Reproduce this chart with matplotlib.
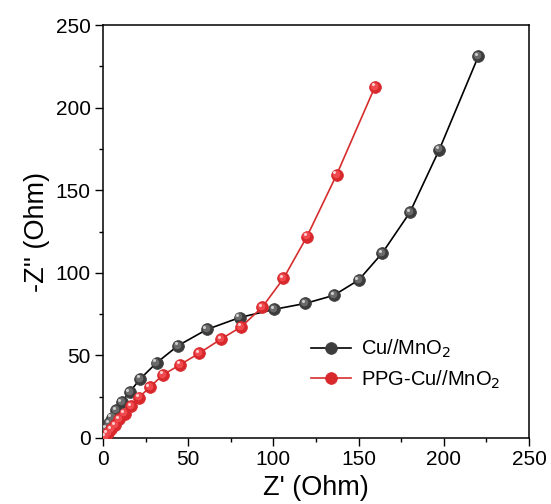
import numpy as np
import matplotlib
matplotlib.use('Agg')
import matplotlib.pyplot as plt
from matplotlib.transforms import ScaledTranslation

# Nyquist data
cu_x = [0.6, 1.2, 2.2, 3.6, 5.1, 7.7, 11.0, 15.6, 21.9, 31.4, 44.0, 60.9, 80.1,
        100.4, 118.8, 135.5, 150.1, 163.9, 180.1, 197.4, 220.3]
cu_y = [0.4, 2.8, 5.8, 8.8, 12.4, 16.8, 21.8, 27.8, 35.9, 45.5, 55.9, 65.7, 72.9,
        77.9, 81.5, 86.4, 95.7, 112.0, 136.6, 174.7, 231.2]
ppg_x = [0.3, 1.2, 2.8, 4.7, 7.1, 9.6, 12.6, 16.4, 21.1, 27.4, 35.3, 45.1, 56.4,
         69.2, 81.1, 93.5, 105.9, 119.7, 137.1, 159.6]
ppg_y = [0.2, 0.8, 2.8, 5.2, 7.8, 11.2, 14.8, 19.2, 24.5, 30.8, 38.3, 44.3, 51.3,
         59.9, 67.3, 79.3, 96.6, 122.0, 159.4, 212.7]

plt.rcParams['font.family'] = ['Liberation Sans', 'DejaVu Sans']

fig = plt.figure(figsize=(5.51, 5.04), dpi=100)
ax = fig.add_axes([0.187, 0.131, 0.773, 0.819])


def balls(x, y, line_color, dark, mid, light, label, z):
    # line + dark sphere, then shaded highlight layers shifted up-left
    ln, = ax.plot(x, y, '-', color=line_color, lw=1.2, marker='o', ms=8.5,
                  mfc=dark, mec=dark, mew=0.5, label=label, zorder=z)
    off1 = ax.transData + ScaledTranslation(-0.8/72, 0.8/72, fig.dpi_scale_trans)
    ax.plot(x, y, 'o', ms=5.5, color=mid, mew=0, transform=off1, zorder=z + 0.1)
    off2 = ax.transData + ScaledTranslation(-1.7/72, 1.7/72, fig.dpi_scale_trans)
    ax.plot(x, y, 'o', ms=2.2, color=light, mew=0, transform=off2, zorder=z + 0.2)
    return ln


balls(cu_x, cu_y, 'black', '#3c3c3c', '#6a6a6a', '#d0d0d0', 'Cu//MnO$_2$', 3)
balls(ppg_x, ppg_y, '#d62d2d', '#d8282c', '#f04a4e', '#ffd0d0', 'PPG-Cu//MnO$_2$', 4)

ax.set_xlim(0, 250)
ax.set_ylim(0, 250)
ax.set_xticks(np.arange(0, 251, 50))
ax.set_yticks(np.arange(0, 251, 50))
ax.set_xticks(np.arange(25, 250, 50), minor=True)
ax.set_yticks(np.arange(25, 250, 50), minor=True)
ax.tick_params(which='major', direction='out', length=5.5, width=1, labelsize=15)
ax.tick_params(which='minor', direction='out', length=3, width=1)
for s in ax.spines.values():
    s.set_linewidth(1.1)

ax.set_xlabel("Z' (Ohm)", fontsize=19.5, labelpad=4)
ax.set_ylabel("-Z'' (Ohm)", fontsize=19.5, labelpad=4)

ax.legend(loc='center', bbox_to_anchor=(0.71, 0.178), frameon=False,
          fontsize=14.5, handlelength=2.0, handletextpad=0.5, labelspacing=0.4)

plt.savefig('out.png', dpi=100)
